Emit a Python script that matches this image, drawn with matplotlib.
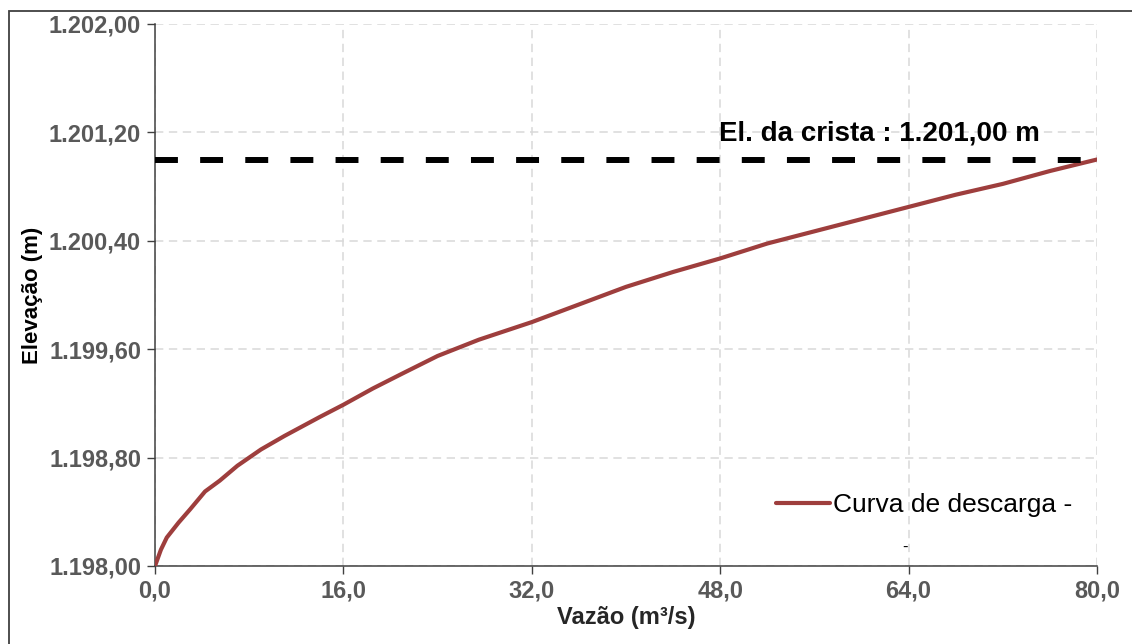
import matplotlib.pyplot as plt
import matplotlib.ticker as mticker
from matplotlib.patches import Rectangle

# curva de descarga do vertedouro
vazao = [0.0, 0.5, 1.0, 2.0, 3.0, 4.25, 5.5, 7.0, 9.0, 11.0, 14.0, 16.0, 18.5, 21.0,
         24.0, 27.5, 32.0, 36.0, 40.0, 44.0, 48.0, 52.0, 56.0, 60.0, 64.0, 68.0,
         72.0, 76.0, 80.0]
elevacao = [1198.00, 1198.12, 1198.21, 1198.32, 1198.42, 1198.55, 1198.63, 1198.74,
            1198.86, 1198.96, 1199.10, 1199.19, 1199.31, 1199.42, 1199.55, 1199.67,
            1199.80, 1199.93, 1200.06, 1200.17, 1200.27, 1200.38, 1200.47, 1200.56,
            1200.65, 1200.74, 1200.82, 1200.915, 1201.00]
el_crista = 1201.00

xticks = [0, 16, 32, 48, 64, 80]
yticks = [1198.0, 1198.8, 1199.6, 1200.4, 1201.2, 1202.0]

plt.rcParams['font.family'] = ['Liberation Sans', 'DejaVu Sans']
plt.rcParams['lines.scale_dashes'] = False


def fmtBR(v, casas):
    s = '{:,.{}f}'.format(v, casas)
    return s.replace(',', 'X').replace('.', ',').replace('X', '.')


fig = plt.figure(figsize=(11.32, 6.44), dpi=100)
ax = fig.add_axes([155 / 1132, 1 - 566 / 644, 942 / 1132, 542 / 644])

# moldura externa
fig.patches.append(Rectangle((9 / 1132, -0.05), 1.2, 1 - 11 / 644 + 0.05,
                             transform=fig.transFigure, fill=False,
                             edgecolor='#404040', linewidth=1.3))

ax.plot(vazao, elevacao, color='#9e3e3d', linewidth=3.0, label='Curva de descarga -',
        solid_capstyle='round', zorder=3)
ax.axhline(el_crista, color='black', linewidth=4.3, dashes=(16.5, 16), zorder=4)
ax.text(61.5, 1201.19, 'El. da crista : ' + fmtBR(el_crista, 2) + ' m',
        ha='center', va='center', fontsize=20, fontweight='bold', color='black')

ax.set_xlim(0, 80)
ax.set_ylim(1198, 1202)
ax.set_xticks(xticks)
ax.set_yticks(yticks)
ax.xaxis.set_major_formatter(mticker.FuncFormatter(lambda v, p: fmtBR(v, 1)))
ax.yaxis.set_major_formatter(mticker.FuncFormatter(lambda v, p: fmtBR(v, 2)))
ax.tick_params(direction='out', length=6, width=1, colors='#404040',
               labelcolor='#595959', labelsize=17, pad=4)
for lbl in ax.get_xticklabels() + ax.get_yticklabels():
    lbl.set_fontweight('bold')

ax.grid(True, color='#d9d9d9', linewidth=1.1, dashes=(6, 4))
for s in ['top', 'right']:
    ax.spines[s].set_visible(False)
for s in ['left', 'bottom']:
    ax.spines[s].set_color('#404040')
    ax.spines[s].set_linewidth(1.1)

ax.set_xlabel('Vazão (m³/s)', fontsize=17, fontweight='bold', color='#262626', labelpad=2)
ax.set_ylabel('Elevação (m)', fontsize=16, fontweight='bold', color='black', labelpad=4)

ax.legend(loc='center left', bbox_to_anchor=(0.659, 0.1125), frameon=False,
          fontsize=19, handlelength=2.05, handletextpad=0.12, borderpad=0,
          borderaxespad=0)
ax.text(63.7, 1198.14, '-', ha='center', va='center', fontsize=12, color='black')

plt.savefig('out.png', dpi=100)
plt.close()
